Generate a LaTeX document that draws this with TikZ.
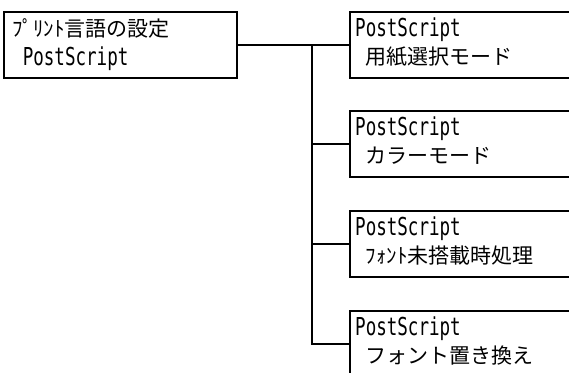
\documentclass[tikz,border=0pt]{standalone}
\usepackage{fontspec}
\setmainfont{Noto Sans CJK JP}
\newfontfamily\lat[FakeStretch=0.71]{DejaVu Sans Mono}
\newcommand\ps{{\lat\fontsize{24.7}{28}\selectfont PostScript}}
\begin{document}
\begin{tikzpicture}[x=1pt,y=-1pt,
  box/.style={draw, line width=2pt, rectangle, anchor=north west, minimum height=66pt, inner sep=0pt},
  txt/.style={anchor=base west, inner sep=0pt, font=\fontsize{21}{24}\selectfont},
  wire/.style={draw, line width=2pt}]
\useasboundingbox (0,0) rectangle (569,372);
\clip (0,0) rectangle (569,372);
% left box
\node[box, minimum width=233pt] (L) at (3,11) {};
\node[txt] (L1) at (12,36) {ﾌﾟﾘﾝﾄ言語の設定};
\node[txt] (L2) at (12,65) {\hspace{10.6pt}\ps};
% right boxes
\node[box, minimum width=260pt] (R1) at (349,11) {};
\node[txt] (R1a) at (355,36) {\ps};
\node[txt] (R1b) at (355,64) {\hspace{10.6pt}用紙選択モード};
\node[box, minimum width=260pt] (R2) at (349,110) {};
\node[txt] (R2a) at (355,135) {\ps};
\node[txt] (R2b) at (355,163) {\hspace{10.6pt}カラーモード};
\node[box, minimum width=260pt] (R3) at (349,210) {};
\node[txt] (R3a) at (355,235) {\ps};
\node[txt] (R3b) at (355,263) {\hspace{10.6pt}ﾌｫﾝﾄ未搭載時処理};
\node[box, minimum width=260pt] (R4) at (349,310) {};
\node[txt] (R4a) at (355,335) {\ps};
\node[txt] (R4b) at (355,363) {\hspace{10.6pt}フォント置き換え};
% connectors
\coordinate (J) at (312,44);
\draw[wire] (L.east) -- (R1.west);
\draw[wire] (J) -- (J |- R4.west) -- (R4.west);
\draw[wire] (J |- R2.west) -- (R2.west);
\draw[wire] (J |- R3.west) -- (R3.west);
\end{tikzpicture}
\end{document}
